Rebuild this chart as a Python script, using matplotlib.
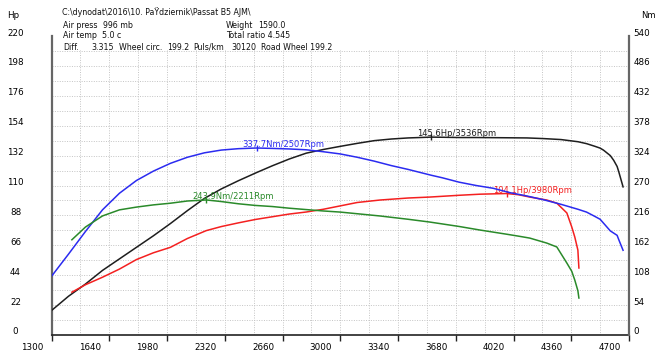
import matplotlib
matplotlib.use("Agg")
import matplotlib.pyplot as plt
from matplotlib.transforms import ScaledTranslation
import numpy as np

# run A: engine power (Hp) and torque (Nm)
rpm_a = [1300, 1400, 1500, 1600, 1700, 1800, 1900, 2000, 2100, 2200, 2300, 2400,
         2507, 2600, 2700, 2800, 2900, 3000, 3100, 3200, 3300, 3400, 3536, 3600,
         3700, 3800, 3900, 4000, 4100, 4200, 4300, 4400, 4450, 4500, 4530, 4550,
         4590, 4610, 4630, 4640, 4665]
hp_a = [18.0, 28.5, 37.5, 47.5, 56.0, 64.5, 73.0, 82.0, 91.5, 100.5, 107.5, 113.5,
        119.5, 124.5, 129.5, 133.8, 136.5, 138.8, 141.0, 143.0, 144.2, 145.0, 145.6, 145.5,
        145.3, 145.3, 145.2, 145.1, 145.0, 144.5, 143.8, 142.2, 140.8, 138.8, 137.5, 136.0,
        132.0, 128.5, 124.0, 120.0, 109.0]
nm_a = [106, 146, 187, 226, 256, 279, 296, 310, 321, 329, 334.0, 336.5,
        337.7, 337.0, 336.0, 334.5, 331.0, 327.0, 321.0, 314.0, 306.0, 299.0, 288.5, 284.0,
        276.0, 270.0, 265.0, 257.0, 251.0, 244.0, 236.0, 227.0, 222.0, 214.0, 209.0, 202.0,
        188.0, 184.0, 180.0, 172.0, 153.0]

# run B: wheel power (Hp) and torque (Nm)
rpm_b = [1420, 1500, 1600, 1700, 1800, 1900, 2000, 2100, 2211, 2300, 2400, 2500,
         2600, 2700, 2800, 2900, 3000, 3100, 3233, 3400, 3527, 3700, 3822, 3980,
         4050, 4116, 4216, 4275, 4334, 4363, 4381, 4399, 4405]
hp_b = [31.5, 37.0, 42.5, 48.5, 55.5, 60.5, 64.5, 71.0, 76.8, 79.8, 82.5, 85.0,
        87.0, 89.0, 90.5, 92.5, 95.0, 97.5, 99.3, 100.8, 101.5, 102.8, 103.6, 104.1,
        103.2, 101.5, 99.3, 97.0, 89.8, 79.5, 72.0, 62.5, 49.3]
nm_b = [172, 195, 215, 226, 231, 235, 238, 242, 243.9, 241, 237, 234,
        232, 229, 226.5, 224, 222, 219, 215, 209, 204, 196, 189.6, 182,
        178.5, 175, 166, 159, 130, 115, 99, 80, 66.8]

rpm_ticks = [1300, 1640, 1980, 2320, 2660, 3000, 3340, 3680, 4020, 4360, 4700]
hp_ticks = [0, 22, 44, 66, 88, 110, 132, 154, 176, 198, 220]
nm_ticks = [0, 54, 108, 162, 216, 270, 324, 378, 432, 486, 540]

W, H = 656, 351
plt.rcParams["font.family"] = "DejaVu Sans"


def fx(px):
    return px / W


def fy(py):
    return 1 - py / H


fig = plt.figure(figsize=(W / 100, H / 100), dpi=100)
ax = fig.add_axes([fx(51.5), fy(335), fx(629) - fx(51.5), fy(36) - fy(335)])
ax2 = ax.twinx()

ax.set_xlim(1300, 4700)
ax.set_ylim(0, 220)
ax2.set_ylim(0, 540)

# dotted grid, half steps, stopping below the header block
grid_kw = dict(colors="#c4c4c4", linestyles=(0, (1, 1.5)), linewidth=0.7, zorder=0)
ax.hlines(np.arange(11, 210, 11), 1300, 4700, **grid_kw)
ax.vlines(np.arange(1470, 4700, 170), 0, 210, **grid_kw)

lw = 1.1
ax.plot(rpm_a, hp_a, color="#1e1e1e", lw=lw, zorder=3)
ax.plot(rpm_b, hp_b, color="#f42020", lw=lw, zorder=3)
ax2.plot(rpm_a, nm_a, color="#2b2bf0", lw=lw, zorder=3)
ax2.plot(rpm_b, nm_b, color="#2a8a2a", lw=lw, zorder=3)


def mark_peak(axis, rpm, vals, unit, color):
    i = int(np.argmax(vals))
    r, v = rpm[i], vals[i]
    axis.plot(r, v, marker="|", ms=5, mew=1, color=color, zorder=4)
    axis.annotate(f"{v:.1f}{unit}/{r}Rpm", xy=(r, v), xytext=(-14, 1),
                  textcoords="offset pixels", ha="left", va="baseline",
                  fontsize=6, color=color, zorder=5)


mark_peak(ax, rpm_a, hp_a, "Hp", "#1e1e1e")
mark_peak(ax, rpm_b, hp_b, "Hp", "#f42020")
mark_peak(ax2, rpm_a, nm_a, "Nm", "#2b2bf0")
mark_peak(ax2, rpm_b, nm_b, "Nm", "#2a8a2a")

# axes frame
for a in (ax, ax2):
    a.spines["top"].set_visible(False)
ax.spines["right"].set_visible(False)
ax.spines["left"].set_color("#666666")
ax.spines["left"].set_linewidth(1.6)
ax.spines["bottom"].set_color("#222222")
ax.spines["bottom"].set_linewidth(1.2)
ax2.spines["left"].set_visible(False)
ax2.spines["bottom"].set_visible(False)
ax2.spines["right"].set_color("#666666")
ax2.spines["right"].set_linewidth(1.6)

ax.set_xticks(rpm_ticks)
ax.set_xticklabels([str(t) for t in rpm_ticks])
ax.tick_params(axis="x", direction="out", length=4, width=1, color="#222222",
               labelsize=6.3, pad=2)
shift_x = ScaledTranslation(-19.5 / 100, 0, fig.dpi_scale_trans)
for t in ax.xaxis.get_major_ticks():
    t.label1.set_transform(t.label1.get_transform() + shift_x)

shift_up = ScaledTranslation(0, 4 / 100, fig.dpi_scale_trans)
ax.set_yticks(hp_ticks)
ax.set_yticklabels([str(t) for t in hp_ticks])
ax.tick_params(axis="y", length=0, labelsize=6.3, pad=25.9)
for t in ax.yaxis.get_major_ticks():
    t.label1.set_horizontalalignment("center")
    t.label1.set_transform(t.label1.get_transform() + shift_up)

ax2.set_yticks(nm_ticks)
ax2.set_yticklabels([str(t) for t in nm_ticks])
ax2.tick_params(axis="y", length=0, labelsize=6.3, pad=3)
for t in ax2.yaxis.get_major_ticks():
    t.label2.set_transform(t.label2.get_transform() + shift_up)

# unit captions
fig.text(fx(7), fy(15), "Hp", fontsize=6.3, va="center", ha="left")
fig.text(fx(641), fy(16), "Nm", fontsize=6, va="center", ha="left")

# run header
hdr = dict(fontsize=5.7, va="center", ha="left", color="#111111")
fig.text(fx(62), fy(12.5), "C:\\dynodat\\2016\\10. PaŸdziernik\\Passat B5 AJM\\", **hdr)
fig.text(fx(63), fy(25.5), "Air press", **hdr)
fig.text(fx(103), fy(25.5), "996 mb", **hdr)
fig.text(fx(226), fy(25.5), "Weight", **hdr)
fig.text(fx(258), fy(25.5), "1590.0", **hdr)
fig.text(fx(63), fy(36), "Air temp", **hdr)
fig.text(fx(102), fy(36), "5.0 c", **hdr)
fig.text(fx(226), fy(36), "Total ratio 4.545", **hdr)
fig.text(fx(63), fy(47.5), "Diff.", **hdr)
fig.text(fx(91), fy(47.5), "3.315", **hdr)
fig.text(fx(119), fy(47.5), "Wheel circ.", **hdr)
fig.text(fx(167), fy(47.5), "199.2", **hdr)
fig.text(fx(193), fy(47.5), "Puls/km", **hdr)
fig.text(fx(231), fy(47.5), "30120", **hdr)
fig.text(fx(261), fy(47.5), "Road Wheel 199.2", **hdr)

fig.savefig("out.png", dpi=100)
